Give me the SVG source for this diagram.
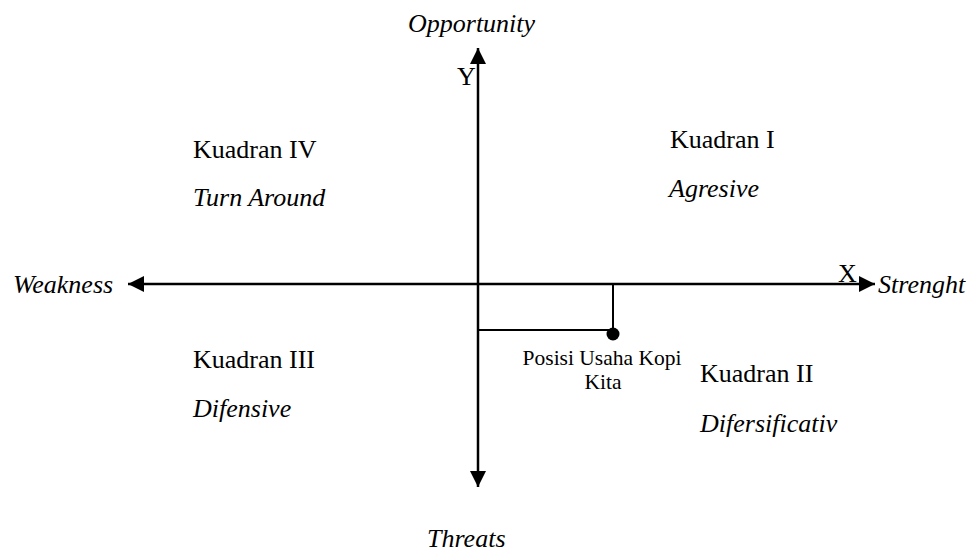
<svg xmlns="http://www.w3.org/2000/svg" width="970" height="555" viewBox="0 0 970 555">
<style>
.t{font-family:"Liberation Serif","Times New Roman",serif;font-size:26px;fill:#000}
.i{font-style:italic}
.s{font-family:"Liberation Serif","Times New Roman",serif;font-size:21.5px;fill:#000}
.ax{stroke:#000;stroke-width:2.5;fill:none}
.ln{stroke:#000;stroke-width:2;fill:none}
</style>
<defs>
<marker id="ah" viewBox="0 0 16 16" refX="16" refY="8" markerWidth="16" markerHeight="16" markerUnits="userSpaceOnUse" orient="auto">
<path d="M0,0 L16,8 L0,16 Z" fill="#000"/>
</marker>
</defs>
<rect width="970" height="555" fill="#fff"/>
<g id="connectors">
<line class="ax" x1="478" y1="284" x2="478" y2="48" marker-end="url(#ah)"/>
<line class="ax" x1="478" y1="284" x2="478" y2="487" marker-end="url(#ah)"/>
<line class="ax" x1="478" y1="284" x2="875" y2="284" marker-end="url(#ah)"/>
<line class="ax" x1="478" y1="284" x2="128" y2="284" marker-end="url(#ah)"/>
<line class="ln" x1="613" y1="284" x2="613" y2="334"/>
<line class="ln" x1="478" y1="330" x2="613" y2="330"/>
</g>
<g id="axis-labels">
<text class="t i" x="408" y="32">Opportunity</text>
<text class="t" x="457" y="85">Y</text>
<text class="t" x="838" y="282">X</text>
<text class="t i" x="878" y="293">Strenght</text>
<text class="t i" x="13" y="293">Weakness</text>
<text class="t i" x="427" y="547">Threats</text>
</g>
<g id="kuadran-1">
<text class="t" x="670" y="148">Kuadran I</text>
<text class="t i" x="669" y="197">Agresive</text>
</g>
<g id="kuadran-2">
<text class="t" x="700" y="382">Kuadran II</text>
<text class="t i" x="700" y="432">Difersificativ</text>
</g>
<g id="kuadran-3">
<text class="t" x="193" y="368">Kuadran III</text>
<text class="t i" x="193" y="417">Difensive</text>
</g>
<g id="kuadran-4">
<text class="t" x="193" y="158">Kuadran IV</text>
<text class="t i" x="193" y="206">Turn Around</text>
</g>
<g id="posisi">
<circle cx="613" cy="334" r="6.5" fill="#000"/>
<text class="s" x="602" y="365" text-anchor="middle">Posisi Usaha Kopi</text>
<text class="s" x="603" y="389" text-anchor="middle">Kita</text>
</g>
</svg>
